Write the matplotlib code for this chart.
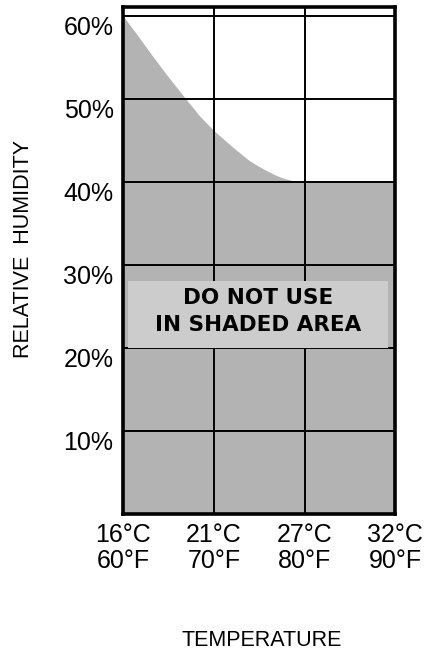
# Relative humidity vs temperature limit chart
import matplotlib.pyplot as plt
from matplotlib.patches import Rectangle

# data
temp_f = [60, 61.5, 63.3, 65.1, 67, 68.4, 70, 71, 72.1, 73, 73.9, 74.8,
          75.8, 76.7, 77.6, 78.5, 79.4, 80, 90]
rh_limit = [60, 57.8, 55.1, 52.5, 49.9, 48.0, 46.2, 45.25, 44.2, 43.4, 42.6,
            42.0, 41.4, 40.9, 40.5, 40.23, 40.07, 40, 40]

x_ticks = [60, 70, 80, 90]
x_labels = ["16°C\n60°F", "21°C\n70°F", "27°C\n80°F", "32°C\n90°F"]
y_ticks = [10, 20, 30, 40, 50, 60]
y_labels = ["10%", "20%", "30%", "40%", "50%", "60%"]

shade = "#b3b3b3"
box_col = "#cccccc"

fig = plt.figure(figsize=(4.38, 6.49), dpi=100)
ax = fig.add_axes([0.2815, 0.208, 0.621, 0.781])

ax.fill_between(temp_f, rh_limit, 0, color=shade, linewidth=0, zorder=1)

for y in y_ticks:
    ax.axhline(y, color="black", linewidth=1.4, zorder=2)
for x in x_ticks[1:-1]:
    ax.axvline(x, color="black", linewidth=1.4, zorder=2)

# warning box
ax.add_patch(Rectangle((60.5, 20.0), 28.7, 8.1, facecolor=box_col,
                       edgecolor="none", zorder=3))
ax.text(74.85, 24.4, "DO NOT USE\nIN SHADED AREA", ha="center", va="center",
        fontsize=15.5, fontweight="bold", family="DejaVu Sans",
        linespacing=1.45, zorder=4)

ax.set_xlim(60, 90)
ax.set_ylim(0, 61.1)
ax.set_xticks(x_ticks)
ax.set_xticklabels(x_labels, fontsize=18, family="Liberation Sans",
                   linespacing=1.1)
ax.set_yticks(y_ticks)
ax.set_yticklabels(y_labels, fontsize=18, family="Liberation Sans")
for lab in ax.get_yticklabels():
    lab.set_va("top")
ax.tick_params(axis="both", length=0)
ax.tick_params(axis="x", pad=6.5)
ax.tick_params(axis="y", pad=7)
for s in ax.spines.values():
    s.set_linewidth(2.6)
    s.set_zorder(5)

fig.text(24 / 438, 1 - 249 / 649, "RELATIVE  HUMIDITY", rotation=90,
         ha="center", va="center", fontsize=15.5, family="Liberation Sans")
fig.text(262 / 438, 1 - 640 / 649, "TEMPERATURE", ha="center", va="center",
         fontsize=15.5, family="Liberation Sans")

fig.savefig("out.png", dpi=100)
